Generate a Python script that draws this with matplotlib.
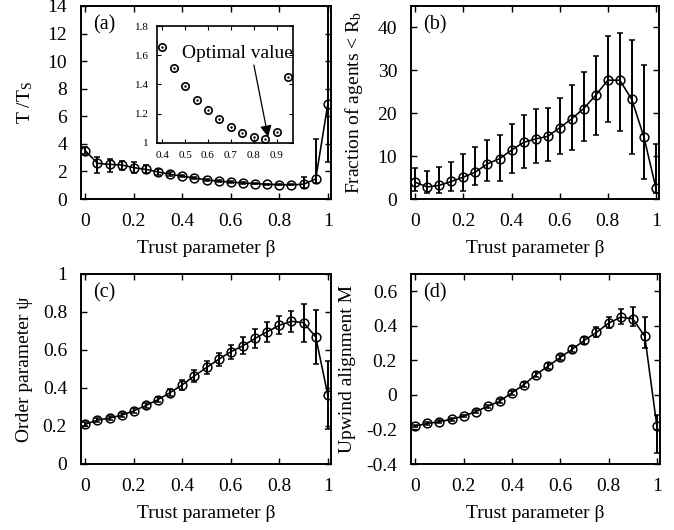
import numpy as np
import matplotlib
matplotlib.use("Agg")
import matplotlib.pyplot as plt
from matplotlib.ticker import MultipleLocator, FuncFormatter

plt.rcParams['font.family'] = ['Liberation Serif', 'DejaVu Serif']
plt.rcParams['mathtext.fontset'] = 'custom'
plt.rcParams['mathtext.rm'] = 'Liberation Serif'
plt.rcParams['mathtext.it'] = 'Liberation Serif:italic'
plt.rcParams['axes.unicode_minus'] = False

# ---------------- data ----------------
beta = [0.0, 0.05, 0.1, 0.15, 0.2, 0.25, 0.3, 0.35, 0.4, 0.45, 0.5,
        0.55, 0.6, 0.65, 0.7, 0.75, 0.8, 0.85, 0.9, 0.95, 1.0]

# (a) T/T_S
t_mean = [3.5, 2.59, 2.51, 2.47, 2.27, 2.15, 1.96, 1.79, 1.66, 1.514, 1.391,
          1.293, 1.224, 1.162, 1.112, 1.069, 1.041, 1.030, 1.073, 1.453, 6.9]
t_err_lo = [0.25, 0.68, 0.53, 0.37, 0.36, 0.25, 0.2, 0.15, 0.1, 0.08, 0.07,
            0.06, 0.06, 0.05, 0.05, 0.05, 0.05, 0.05, 0.3, 0.3, 4.2]
t_err_hi = [0.25, 0.48, 0.39, 0.31, 0.39, 0.35, 0.2, 0.15, 0.1, 0.08, 0.07,
            0.06, 0.06, 0.05, 0.05, 0.05, 0.05, 0.05, 0.5, 2.9, 7.5]

# inset
beta_in = [0.4, 0.45, 0.5, 0.55, 0.6, 0.65, 0.7, 0.75, 0.8, 0.85, 0.9, 0.95]
t_in = [1.656, 1.514, 1.391, 1.293, 1.224, 1.162, 1.112, 1.069, 1.041, 1.030, 1.073, 1.453]

# (b) Fraction of agents < R_b
f_mean = [3.9, 2.8, 3.2, 4.1, 5.1, 6.3, 8.2, 9.4, 11.4, 13.2, 14.0,
          14.6, 16.6, 18.7, 21.1, 24.2, 27.7, 27.7, 23.2, 14.5, 2.6]
f_low = [1.8, 1.4, 1.4, 1.8, 1.8, 3.3, 4.3, 4.3, 6.0, 7.3, 8.3,
         8.8, 10.5, 11.5, 13.5, 15.0, 17.9, 15.8, 10.6, 4.7, 1.4]
f_high = [7.25, 6.6, 7.5, 8.6, 10.4, 12.1, 13.7, 15.0, 17.5, 19.6, 21.1,
          21.3, 23.6, 26.5, 29.6, 33.4, 38.0, 38.7, 37.1, 31.2, 12.9]

# (c) Order parameter psi
psi_mean = [0.209, 0.231, 0.242, 0.257, 0.280, 0.308, 0.339, 0.376, 0.417, 0.464, 0.508,
            0.551, 0.591, 0.622, 0.661, 0.696, 0.730, 0.751, 0.744, 0.669, 0.362]
psi_err = [0.01, 0.012, 0.012, 0.012, 0.013, 0.014, 0.015, 0.02, 0.025, 0.03, 0.035,
           0.035, 0.037, 0.045, 0.048, 0.052, 0.048, 0.056, 0.1, 0.143, 0.18]

# (d) Upwind alignment M
m_mean = [-0.18, -0.165, -0.155, -0.141, -0.122, -0.097, -0.066, -0.035, 0.012, 0.060, 0.118,
          0.167, 0.217, 0.265, 0.316, 0.362, 0.415, 0.450, 0.441, 0.339, -0.18]
m_err_lo = [0.008, 0.008, 0.008, 0.008, 0.008, 0.009, 0.01, 0.01, 0.012, 0.013, 0.014,
            0.015, 0.016, 0.018, 0.022, 0.025, 0.03, 0.04, 0.04, 0.066, 0.155]
m_err_hi = [0.008, 0.008, 0.008, 0.008, 0.008, 0.009, 0.01, 0.01, 0.012, 0.013, 0.014,
            0.015, 0.016, 0.018, 0.022, 0.03, 0.035, 0.045, 0.068, 0.112, 0.065]

# ---------------- figure ----------------
W, H = 674, 530
fig = plt.figure(figsize=(W / 100, H / 100), dpi=100)

def px_axes(l, t, r, b):
    return fig.add_axes([l / W, 1 - b / H, (r - l) / W, (b - t) / H])

FS = 14
fmt = FuncFormatter(lambda v, p: ('%g' % round(v, 6)))

def style(ax, ylim, ystep, label, ylabel, ylab_x):
    ax.set_xlim(-0.018, 1.013)
    ax.set_ylim(*ylim)
    ax.xaxis.set_major_locator(MultipleLocator(0.2))
    ax.yaxis.set_major_locator(MultipleLocator(ystep))
    ax.xaxis.set_major_formatter(fmt)
    ax.yaxis.set_major_formatter(fmt)
    ax.tick_params(direction='in', top=True, right=True, length=4, width=1,
                   labelsize=FS, pad=10)
    for s in ax.spines.values():
        s.set_linewidth(1.4)
    ax.set_xlabel('Trust parameter β', fontsize=FS, labelpad=7)
    ax.set_ylabel(ylabel, fontsize=FS)
    ax.yaxis.label.set_va('center')
    ax.yaxis.set_label_coords(ylab_x, 0.5)
    ax.text(0.05, 0.9, label, transform=ax.transAxes, fontsize=FS + 0.5,
            ha='left', va='center')

ekw = dict(fmt='-o', color='black', mfc='none', mec='black', ms=6.3, mew=1.1,
           lw=1.15, elinewidth=1.4, capsize=2, capthick=1.1)

ax_a = px_axes(81, 6, 331, 199)
ax_a.errorbar(beta, t_mean, yerr=[t_err_lo, t_err_hi], **ekw)
style(ax_a, (0, 14), 2, '(a)', r'T /T$_{\mathrm{S}}$', -0.225)

ax_b = px_axes(411, 6, 659, 199)
f_lo_err = [m - l for m, l in zip(f_mean, f_low)]
f_hi_err = [h - m for m, h in zip(f_mean, f_high)]
ax_b.errorbar(beta, f_mean, yerr=[f_lo_err, f_hi_err], **ekw)
style(ax_b, (0, 45), 10, '(b)', r'Fraction of agents < R$_{\mathrm{b}}$', -0.23)

ax_c = px_axes(81, 274, 331, 464)
ax_c.errorbar(beta, psi_mean, yerr=psi_err, **ekw)
style(ax_c, (0, 1), 0.2, '(c)', 'Order parameter ψ', -0.225)

ax_d = px_axes(411, 274, 660, 464)
ax_d.errorbar(beta, m_mean, yerr=[m_err_lo, m_err_hi], **ekw)
style(ax_d, (-0.4, 0.7), 0.2, '(d)', 'Upwind alignment M', -0.255)

# inset
ax_in = px_axes(157, 26, 293, 143)
ax_in.plot(beta_in, t_in, 'o', mfc='none', mec='black', ms=5.3, mew=1.2)
ax_in.plot(beta_in, t_in, '.', color='black', ms=1.5)
ax_in.set_xlim(0.377, 0.972)
ax_in.set_ylim(1.0, 1.8)
ax_in.xaxis.set_major_locator(MultipleLocator(0.1))
ax_in.yaxis.set_major_locator(MultipleLocator(0.2))
ax_in.xaxis.set_major_formatter(fmt)
ax_in.yaxis.set_major_formatter(fmt)
ax_in.tick_params(direction='in', top=True, right=True, length=3, width=0.8,
                  labelsize=8, pad=6)
for s in ax_in.spines.values():
    s.set_linewidth(1.2)
ax_in.text(0.73, 1.615, 'Optimal value', fontsize=FS, ha='center', va='center')
ax_in.annotate('', xy=(0.863, 1.041), xytext=(0.801, 1.533),
               arrowprops=dict(arrowstyle='-|>', color='black', lw=0.9,
                               mutation_scale=17, shrinkA=0, shrinkB=0))

fig.savefig('out.png', dpi=100)
